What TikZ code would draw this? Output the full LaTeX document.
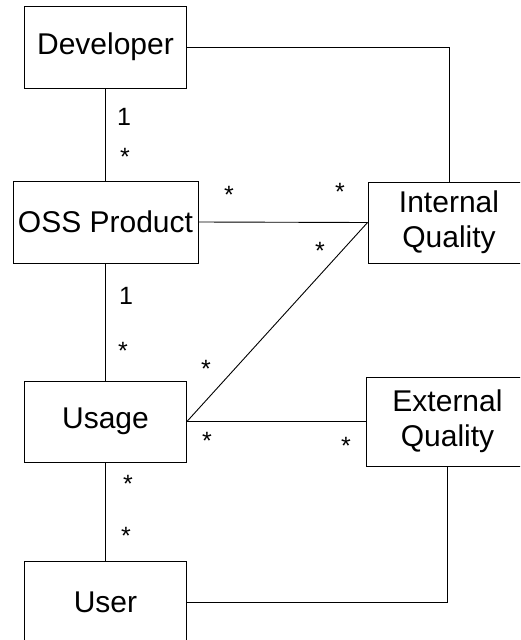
\documentclass[tikz,border=0pt]{standalone}
\usepackage{fontspec}
\setmainfont{Liberation Sans}
\usepackage{tikz}

\begin{document}
\begin{tikzpicture}[x=1pt,y=-1pt,line width=0.9pt,
  cls/.style={draw,inner sep=0pt,minimum width=162pt,minimum height=82pt,
    align=center,font=\fontsize{30}{35}\selectfont},
  mult/.style={inner sep=0pt,font=\fontsize{25}{29}\selectfont}]
\useasboundingbox (0,0) rectangle (520,640);
\clip (0,0) rectangle (520,640);

\node[cls] (dev) at (105.5,47) {Developer};
\node[cls,minimum width=185pt] (oss) at (105.5,222) {OSS Product};
\node[cls,minimum height=81pt] (iq) at (449,222.5) {Internal\\Quality};
\node[cls,minimum height=81pt] (usage) at (105.5,421.5) {Usage};
\node[cls,minimum height=89pt] (eq) at (447.5,421.5) {External\\Quality};
\node[cls] (user) at (105.5,602) {User};

\draw (dev.east) -| (iq.north);
\draw (dev) -- (oss);
\draw (oss.east) -- (iq.west);
\draw (iq.west) -- (usage.east);
\draw (oss) -- (usage);
\draw (usage.east) -- (eq.west);
\draw (usage) -- (user);
\draw (user.east) -| (eq.south);

\node[mult] (devone) at (124,117) {1};
\node[mult] (ossmany) at (125,157) {*};
\node[mult] (ossiqa) at (229,195) {*};
\node[mult] (ossiqb) at (340,192) {*};
\node[mult] (iqdiag) at (320,251) {*};
\node[mult] (ossone) at (126,296) {1};
\node[mult] (usagemany) at (123,351) {*};
\node[mult] (usagediag) at (206,369) {*};
\node[mult] (usageeqa) at (207,441) {*};
\node[mult] (usageeqb) at (346,446) {*};
\node[mult] (useruse) at (128,484) {*};
\node[mult] (userend) at (126,536) {*};
\end{tikzpicture}
\end{document}
